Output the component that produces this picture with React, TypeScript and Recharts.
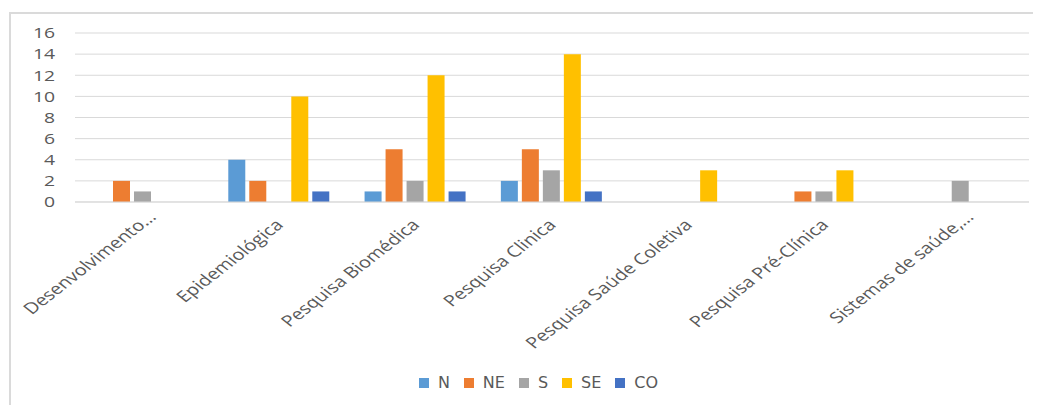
import React from 'react';
import { BarChart, Bar, XAxis, YAxis, CartesianGrid, Legend } from 'recharts';

const categories = [
  'Desenvolvimento…',
  'Epidemiológica',
  'Pesquisa Biomédica',
  'Pesquisa Clinica',
  'Pesquisa Saúde Coletiva',
  'Pesquisa Pré-Clínica',
  'Sistemas de saúde,…',
];
const nValues = [0, 4, 1, 2, 0, 0, 0];
const neValues = [2, 2, 5, 5, 0, 1, 0];
const sValues = [1, 0, 2, 3, 0, 1, 2];
const seValues = [0, 10, 12, 14, 3, 3, 0];
const coValues = [0, 1, 1, 1, 0, 0, 0];
const yTicks = [0, 2, 4, 6, 8, 10, 12, 14, 16];

const series = [
  { key: 'N', values: nValues, color: '#5B9BD5' },
  { key: 'NE', values: neValues, color: '#ED7D31' },
  { key: 'S', values: sValues, color: '#A5A5A5' },
  { key: 'SE', values: seValues, color: '#FFC000' },
  { key: 'CO', values: coValues, color: '#4472C4' },
];

const font = '"Open Sans", sans-serif';
const textColor = '#595959';
// the source picture is stretched sideways
const stretch = 1.29;

const CategoryTick = (props: any) => {
  const { x, y, payload } = props;
  const cut = String(payload.value).endsWith('…');
  const ox = cut ? 14 : 5;
  const oy = cut ? 16 : 24;
  return (
    <text
      transform={`translate(${x + ox},${y + oy}) scale(${stretch},1) rotate(-45)`}
      textAnchor="end"
      fill={textColor}
      fontSize={15.5}
      fontFamily={font}
    >
      {payload.value}
    </text>
  );
};

const ValueTick = (props: any) => {
  const { x, y, payload } = props;
  return (
    <text
      transform={`translate(${x - 20},${y}) scale(${stretch},1)`}
      textAnchor="end"
      dy="0.35em"
      fill={textColor}
      fontSize={15}
      fontFamily={font}
    >
      {payload.value}
    </text>
  );
};

const LegendContent = () => (
  <div style={{ display: 'flex', justifyContent: 'center', paddingLeft: 37 }}>
    {series.map((s, i) => (
      <div
        key={s.key}
        style={{ display: 'flex', alignItems: 'center', marginRight: i < series.length - 1 ? 14 : 0 }}
      >
        <span style={{ width: 10, height: 10, background: s.color, marginRight: 9 }} />
        <span style={{ fontFamily: '"DejaVu Sans", sans-serif', fontSize: 16, color: textColor, lineHeight: '20px' }}>
          {s.key}
        </span>
      </div>
    ))}
  </div>
);

export default function App() {
  const data = React.useMemo(
    () =>
      categories.map((name, i) => {
        const row: Record<string, any> = { name };
        series.forEach(s => (row[s.key] = s.values[i]));
        return row;
      }),
    []
  );

  return (
    <div style={{ paddingTop: 4, paddingLeft: 1 }}>
      <div
        style={{
          width: 1040,
          height: 400,
          border: '2px solid #DADADA',
          boxSizing: 'border-box',
          overflow: 'hidden',
        }}
      >
        <BarChart
          width={1030}
          height={391}
          data={data}
          margin={{ top: 19, right: 12, left: 0, bottom: 12 }}
          barCategoryGap={17}
          barGap={4}
        >
          <CartesianGrid vertical={false} stroke="#D9D9D9" strokeWidth={1} />
          <XAxis
            dataKey="name"
            axisLine={{ stroke: '#D9D9D9' }}
            tickLine={false}
            tickSize={0}
            tickMargin={0}
            interval={0}
            height={171}
            tick={<CategoryTick />}
          />
          <YAxis
            domain={[0, 16]}
            ticks={yTicks}
            interval={0}
            width={64}
            axisLine={false}
            tickLine={false}
            tickSize={0}
            tickMargin={0}
            tick={<ValueTick />}
          />
          <Legend verticalAlign="bottom" height={20} content={<LegendContent />} />
          {series.map(s => (
            <Bar key={s.key} dataKey={s.key} fill={s.color} isAnimationActive={false} />
          ))}
        </BarChart>
      </div>
    </div>
  );
}
